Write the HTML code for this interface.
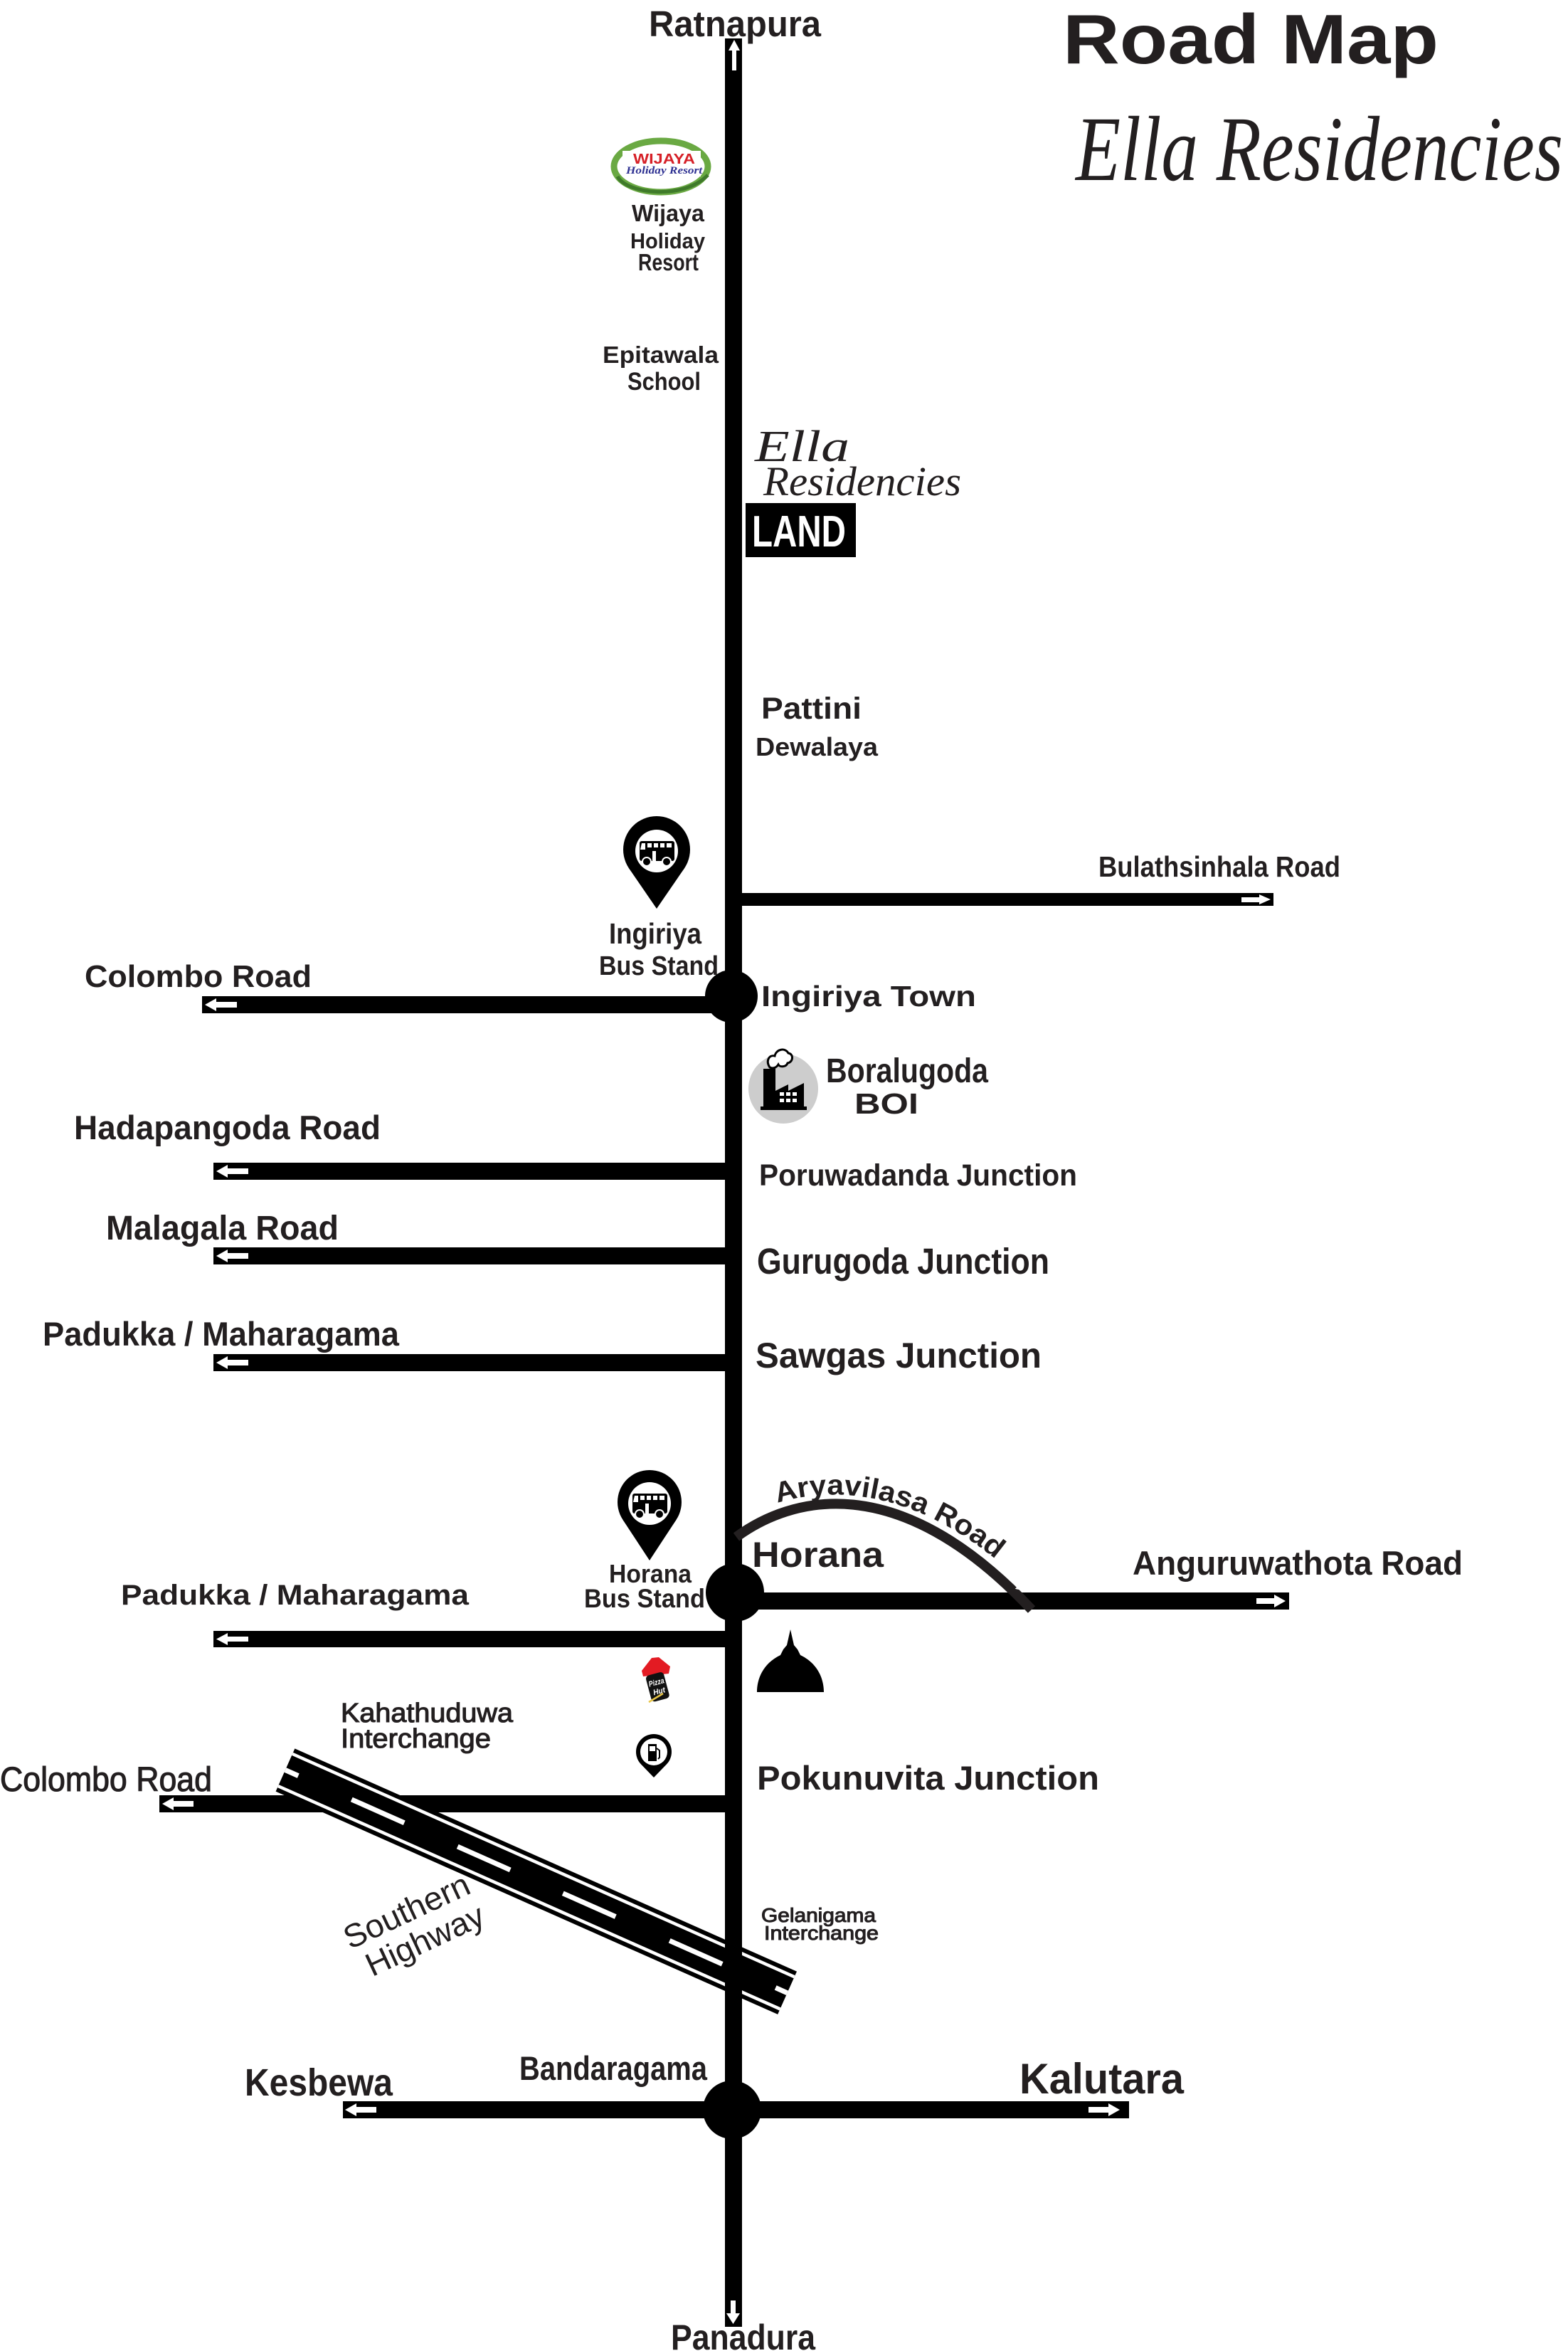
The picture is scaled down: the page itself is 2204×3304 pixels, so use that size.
<!DOCTYPE html>
<html><head><meta charset="utf-8">
<style>
html,body{margin:0;padding:0;background:#fff;}
svg{display:block;}
text{font-family:"Liberation Sans",Arial,sans-serif;fill:#231f20;}
.b{font-weight:bold;}
.m{font-weight:normal;stroke:#231f20;stroke-width:1.1;}
.s{font-family:"Liberation Serif",serif;font-style:italic;}
</style></head><body>
<svg width="2204" height="3304" viewBox="0 0 2204 3304" xmlns="http://www.w3.org/2000/svg">
<rect x="0" y="0" width="2204" height="3304" fill="#fff"/>

<!-- side roads -->
<g fill="#000">
<rect x="1021" y="1255" width="769" height="18"/>
<rect x="284" y="1400" width="720" height="24"/>
<rect x="300" y="1634" width="731" height="24"/>
<rect x="300" y="1753" width="731" height="24"/>
<rect x="300" y="1903" width="731" height="24"/>
<rect x="1020" y="2238" width="792" height="24"/>
<rect x="300" y="2292" width="731" height="23"/>
<rect x="224" y="2523" width="812" height="24"/>
<rect x="482" y="2953" width="1105" height="24"/>
</g>

<!-- Southern highway -->
<g transform="translate(401,2487.5) rotate(23.94)">
<rect x="0" y="-33" width="772" height="66" fill="#000"/>
<rect x="0" y="-27" width="772" height="4.5" fill="#fff"/>
<rect x="0" y="22.5" width="772" height="4.5" fill="#fff"/>
<g fill="#fff">
<rect x="0" y="-3.5" width="20" height="7"/>
<rect x="102" y="-3.5" width="81" height="7"/>
<rect x="265" y="-3.5" width="81" height="7"/>
<rect x="427" y="-3.5" width="81" height="7"/>
<rect x="591" y="-3.5" width="81" height="7"/>
<rect x="754" y="-3.5" width="18" height="7"/>
</g>
</g>

<!-- main road -->
<rect x="1019" y="54" width="24" height="3216" fill="#000"/>

<!-- junction circles -->
<circle cx="1028" cy="1400" r="37" fill="#000"/>
<circle cx="1033" cy="2238" r="41" fill="#000"/>
<circle cx="1029" cy="2965" r="41" fill="#000"/>

<!-- Aryavilasa arc -->
<path d="M1035,2160 C1110,2105 1260,2060 1450,2262" fill="none" stroke="#231f20" stroke-width="14"/>
<g transform="translate(1429,2228) rotate(47)">
<polygon points="-9,-2 2,-2 2,-5 9,0 2,5 2,2 -9,2" fill="#fff"/>
</g>

<!-- white direction arrows -->
<g fill="#fff">
<polygon points="1032,56 1040,71 1035,71 1035,99 1029,99 1029,71 1024,71"/>
<polygon points="1027,3233 1034,3233 1034,3251 1040,3251 1030.5,3266 1021,3251 1027,3251"/>
<polygon points="1786,1264 1770,1257 1770,1261 1745,1261 1745,1268 1770,1268 1770,1271"/>
<polygon points="288,1412 304,1403 304,1408 333,1408 333,1416 304,1416 304,1421"/>
<polygon points="304,1646 320,1637 320,1642 349,1642 349,1650 320,1650 320,1655"/>
<polygon points="304,1765 320,1756 320,1761 349,1761 349,1769 320,1769 320,1774"/>
<polygon points="304,1915 320,1906 320,1911 349,1911 349,1919 320,1919 320,1924"/>
<polygon points="304,2303.5 320,2295 320,2300 349,2300 349,2307 320,2307 320,2312"/>
<polygon points="228,2535 244,2526 244,2531 272,2531 272,2539 244,2539 244,2544"/>
<polygon points="1807,2250 1791,2241 1791,2246 1766,2246 1766,2254 1791,2254 1791,2259"/>
<polygon points="485,2965 501,2956 501,2961 529,2961 529,2969 501,2969 501,2974"/>
<polygon points="1574,2965 1558,2956 1558,2961 1530,2961 1530,2969 1558,2969 1558,2974"/>
</g>

<!-- Wijaya logo -->
<g>
<ellipse cx="929" cy="234" rx="66" ry="36" fill="none" stroke="#6aa943" stroke-width="9"/>
<path d="M868,248 C880,272 960,282 995,246" fill="none" stroke="#3f7a2a" stroke-width="5"/>
<rect x="875" y="212" width="110" height="36" fill="#fff"/>
<text class="b" x="890" y="230" font-size="20" textLength="87" lengthAdjust="spacingAndGlyphs" style="fill:#d62027">WIJAYA</text>
<text class="s" x="880" y="244" font-size="15" textLength="107" lengthAdjust="spacingAndGlyphs" style="fill:#2e3192;font-weight:bold">Holiday Resort</text>
</g>

<!-- LAND box -->
<rect x="1048" y="707" width="155" height="76" fill="#000"/>

<!-- Ingiriya bus pin -->
<g>
<circle cx="923" cy="1194" r="47" fill="#000"/>
<polygon points="884.3,1220.6 961.7,1220.6 923,1277" fill="#000"/>
<circle cx="923" cy="1196" r="30" fill="#fff"/>
<g transform="translate(923,1197)">
<rect x="-24" y="-15" width="49" height="28" rx="3" fill="#000"/>
<g fill="#fff">
<rect x="-13" y="-12" width="6" height="6"/><rect x="-4" y="-12" width="6" height="6"/>
<rect x="5" y="-12" width="6" height="6"/><rect x="14" y="-12" width="7" height="6"/>
<polygon points="-21,-12 -16,-12 -16,-3 -23,-3"/>
<rect x="-6" y="-1" width="5" height="14"/>
</g>
<circle cx="-14" cy="14" r="6" fill="#000" stroke="#fff" stroke-width="2"/>
<circle cx="14" cy="14" r="6" fill="#000" stroke="#fff" stroke-width="2"/>
</g>
</g>

<!-- Horana bus pin -->
<g>
<circle cx="913" cy="2111" r="45" fill="#000"/>
<polygon points="875.4,2135.7 950.6,2135.7 913,2193" fill="#000"/>
<circle cx="913" cy="2113" r="30" fill="#fff"/>
<g transform="translate(913,2114)">
<rect x="-24" y="-15" width="49" height="28" rx="3" fill="#000"/>
<g fill="#fff">
<rect x="-13" y="-12" width="6" height="6"/><rect x="-4" y="-12" width="6" height="6"/>
<rect x="5" y="-12" width="6" height="6"/><rect x="14" y="-12" width="7" height="6"/>
<polygon points="-21,-12 -16,-12 -16,-3 -23,-3"/>
<rect x="-6" y="-1" width="5" height="14"/>
</g>
<circle cx="-14" cy="14" r="6" fill="#000" stroke="#fff" stroke-width="2"/>
<circle cx="14" cy="14" r="6" fill="#000" stroke="#fff" stroke-width="2"/>
</g>
</g>

<!-- Factory icon -->
<g>
<circle cx="1101" cy="1530" r="49" fill="#cdcdcd"/>
<path fill="#000" d="M1073,1555 L1073,1502 L1090,1502 L1090,1533 L1108,1524 L1108,1533 L1130,1522 L1130,1555 L1134,1555 L1134,1560 L1069,1560 L1069,1555 Z"/>
<g fill="#fff">
<rect x="1096" y="1535" width="6" height="5"/><rect x="1105" y="1535" width="6" height="5"/><rect x="1114" y="1535" width="6" height="5"/>
<rect x="1096" y="1544" width="6" height="5"/><rect x="1105" y="1544" width="6" height="5"/><rect x="1114" y="1544" width="6" height="5"/>
</g>
<path d="M1082,1500 C1076,1491 1081,1482 1089,1484 C1091,1474 1104,1472 1108,1480 C1116,1481 1115,1493 1107,1494 C1105,1500 1096,1500 1094,1496 C1091,1501 1086,1502 1082,1500 Z" fill="#fff" stroke="#000" stroke-width="3"/>
</g>

<!-- Stupa -->
<path fill="#000" d="M1111,2290 L1116,2312 L1121,2318 L1125,2326 C1150,2338 1158,2360 1158,2378 L1064,2378 C1064,2360 1072,2338 1097,2326 L1101,2318 L1106,2312 Z"/>

<!-- Pizza Hut -->
<g transform="translate(922,2362)">
<polygon points="-20,-14 -6,-32 4,-33 20,-20 18,-10 -18,-6" fill="#e31b23"/>
<g transform="rotate(-15)">
<rect x="-13" y="-10" width="26" height="38" rx="5" fill="#111"/>
<text x="-11" y="6" font-size="11" style="fill:#fff;font-style:italic;font-weight:bold" textLength="22" lengthAdjust="spacingAndGlyphs">Pizza</text>
<text x="-8" y="19" font-size="11" style="fill:#fff;font-style:italic;font-weight:bold" textLength="17" lengthAdjust="spacingAndGlyphs">Hut</text>
</g>
<path d="M-10,30 L10,18" stroke="#e8c547" stroke-width="2.5"/>
</g>

<!-- Fuel pin -->
<g>
<circle cx="919" cy="2462" r="25" fill="#000"/>
<polygon points="901,2479.4 937,2479.4 919,2498" fill="#000"/>
<circle cx="919" cy="2462" r="19" fill="#fff"/>
<rect x="911" y="2451" width="12" height="24" fill="#000"/>
<rect x="913" y="2454" width="8" height="7" fill="#fff"/>
<path d="M923,2457 L927,2460 L927,2470 L925,2472" fill="none" stroke="#000" stroke-width="2"/>
</g>

<!-- Texts -->
<text class="b" x="912" y="51" font-size="51" textLength="242" lengthAdjust="spacingAndGlyphs">Ratnapura</text>
<text class="b" x="1494" y="89" font-size="98" textLength="528" lengthAdjust="spacingAndGlyphs">Road Map</text>
<text class="s" x="1512" y="253" font-size="130" textLength="685" lengthAdjust="spacingAndGlyphs">Ella Residencies</text>

<text class="b" x="888" y="311" font-size="33" textLength="102" lengthAdjust="spacingAndGlyphs">Wijaya</text>
<text class="b" x="886" y="349" font-size="31" textLength="105" lengthAdjust="spacingAndGlyphs">Holiday</text>
<text class="b" x="897" y="380" font-size="33" textLength="85" lengthAdjust="spacingAndGlyphs">Resort</text>

<text class="b" x="847" y="510" font-size="33" textLength="163" lengthAdjust="spacingAndGlyphs">Epitawala</text>
<text class="b" x="882" y="548" font-size="35" textLength="103" lengthAdjust="spacingAndGlyphs">School</text>

<text class="s" x="1061" y="648" font-size="62" textLength="133" lengthAdjust="spacingAndGlyphs">Ella</text>
<text class="s" x="1073" y="696" font-size="58" textLength="278" lengthAdjust="spacingAndGlyphs">Residencies</text>
<text class="b" x="1057" y="768" font-size="62" textLength="132" lengthAdjust="spacingAndGlyphs" style="fill:#fff">LAND</text>

<text class="b" x="1070" y="1010" font-size="43" textLength="141" lengthAdjust="spacingAndGlyphs">Pattini</text>
<text class="b" x="1062" y="1062" font-size="36" textLength="172" lengthAdjust="spacingAndGlyphs">Dewalaya</text>

<text class="b" x="1544" y="1232" font-size="41" textLength="340" lengthAdjust="spacingAndGlyphs">Bulathsinhala Road</text>
<text class="b" x="856" y="1326" font-size="41" textLength="130" lengthAdjust="spacingAndGlyphs">Ingiriya</text>
<text class="b" x="842" y="1370" font-size="38" textLength="168" lengthAdjust="spacingAndGlyphs">Bus Stand</text>
<text class="b" x="119" y="1387" font-size="44" textLength="319" lengthAdjust="spacingAndGlyphs">Colombo Road</text>
<text class="b" x="1070" y="1414" font-size="41" textLength="302" lengthAdjust="spacingAndGlyphs">Ingiriya Town</text>
<text class="b" x="1161" y="1521" font-size="48" textLength="228" lengthAdjust="spacingAndGlyphs">Boralugoda</text>
<text class="b" x="1201" y="1565" font-size="41" textLength="90" lengthAdjust="spacingAndGlyphs">BOI</text>

<text class="b" x="104" y="1601" font-size="47" textLength="431" lengthAdjust="spacingAndGlyphs">Hadapangoda Road</text>
<text class="b" x="1067" y="1666" font-size="43" textLength="447" lengthAdjust="spacingAndGlyphs">Poruwadanda Junction</text>
<text class="b" x="149" y="1742" font-size="48" textLength="327" lengthAdjust="spacingAndGlyphs">Malagala Road</text>
<text class="b" x="1064" y="1790" font-size="51" textLength="411" lengthAdjust="spacingAndGlyphs">Gurugoda Junction</text>
<text class="b" x="60" y="1891" font-size="47" textLength="501" lengthAdjust="spacingAndGlyphs">Padukka / Maharagama</text>
<text class="b" x="1062" y="1922" font-size="50" textLength="402" lengthAdjust="spacingAndGlyphs">Sawgas Junction</text>

<path id="ap" d="M1024,2146 C1099,2091 1274,2049 1462,2250" fill="none"/>
<text class="b" font-size="40"><textPath href="#ap" startOffset="77" textLength="330" lengthAdjust="spacingAndGlyphs">Aryavilasa Road</textPath></text>

<text class="b" x="1057" y="2202" font-size="50" textLength="185" lengthAdjust="spacingAndGlyphs">Horana</text>
<text class="b" x="1592" y="2213" font-size="47" textLength="464" lengthAdjust="spacingAndGlyphs">Anguruwathota Road</text>
<text class="b" x="856" y="2224" font-size="36" textLength="116" lengthAdjust="spacingAndGlyphs">Horana</text>
<text class="b" x="821" y="2259" font-size="37" textLength="170" lengthAdjust="spacingAndGlyphs">Bus Stand</text>
<text class="b" x="170" y="2255" font-size="40" textLength="489" lengthAdjust="spacingAndGlyphs">Padukka / Maharagama</text>

<text class="m" x="479" y="2420" font-size="38" textLength="242" lengthAdjust="spacingAndGlyphs">Kahathuduwa</text>
<text class="m" x="479" y="2456" font-size="38" textLength="211" lengthAdjust="spacingAndGlyphs">Interchange</text>
<text class="m" x="0" y="2517" font-size="48" textLength="298" lengthAdjust="spacingAndGlyphs">Colombo Road</text>
<text class="b" x="1064" y="2515" font-size="47" textLength="481" lengthAdjust="spacingAndGlyphs">Pokunuvita Junction</text>

<g transform="translate(492,2740) rotate(-25)">
<text x="0" y="0" font-size="46" textLength="190" lengthAdjust="spacingAndGlyphs">Southern</text>
<text x="12" y="48" font-size="46" textLength="178" lengthAdjust="spacingAndGlyphs">Highway</text>
</g>

<text class="m" x="1070" y="2701" font-size="28" textLength="161" lengthAdjust="spacingAndGlyphs">Gelanigama</text>
<text class="m" x="1074" y="2726" font-size="28" textLength="161" lengthAdjust="spacingAndGlyphs">Interchange</text>

<text class="b" x="344" y="2945" font-size="54" textLength="208" lengthAdjust="spacingAndGlyphs">Kesbewa</text>
<text class="b" x="730" y="2923" font-size="47" textLength="264" lengthAdjust="spacingAndGlyphs">Bandaragama</text>
<text class="b" x="1433" y="2942" font-size="60" textLength="231" lengthAdjust="spacingAndGlyphs">Kalutara</text>
<text class="b" x="943" y="3302" font-size="50" textLength="203" lengthAdjust="spacingAndGlyphs">Panadura</text>
</svg>
</body></html>
